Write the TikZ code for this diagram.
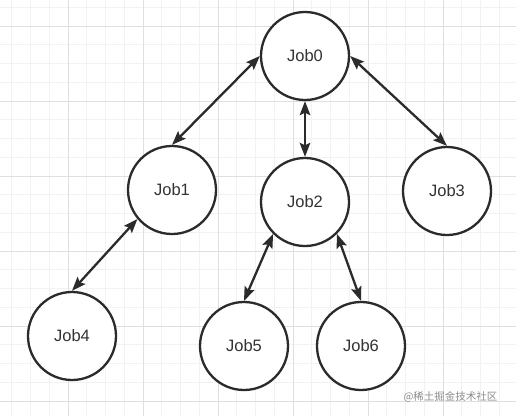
\documentclass[tikz,border=0pt]{standalone}
\usepackage{fontspec}
\setmainfont{Liberation Sans}
\newfontfamily\cjk{Noto Sans CJK SC}
\usepackage{tikz}
\usetikzlibrary{arrows.meta,positioning}
\definecolor{gridminor}{HTML}{F2F2F2}
\definecolor{gridmajor}{HTML}{DFDFDF}
\definecolor{jobink}{HTML}{2B2B2B}
\definecolor{jobtext}{HTML}{333333}

\begin{document}
\begin{tikzpicture}[
    x=1pt,y=-1pt,
    job/.style   = {circle,draw=jobink,line width=2.3pt,fill=white,
                    minimum size=88pt,inner sep=0pt,
                    font=\fontsize{16.5}{18}\selectfont,text=jobtext},
    link/.style  = {draw=jobink,line width=2.3pt,
                    {Stealth[length=14pt,width=10.5pt,inset=2.5pt]}-{Stealth[length=14pt,width=10.5pt,inset=2.5pt]}},
    minor/.style = {gridminor,line width=0.8pt},
    major/.style = {gridmajor,line width=0.8pt},
  ]
  \useasboundingbox (0,0) rectangle (516,416);
  \fill[white] (0,0) rectangle (516,416);

  % ── Grille de fond ────────────────────────────────────────────────────────
  \foreach \i in {0,...,26}
    \draw[minor] ({11.75+18.75*\i},0) -- ++(0,416);
  \foreach \i in {0,...,21}
    \draw[minor] (0,{7.25+18.75*\i}) -- ++(516,0);
  \foreach \i in {0,...,5}
    \draw[major] ({68+75*\i},0) -- ++(0,416);
  \foreach \i in {0,...,5}
    \draw[major] (0,{26+75*\i}) -- ++(516,0);

  % ── Jobs ──────────────────────────────────────────────────────────────────
  \node[job] (job0) at (305, 56)  {Job0};
  \node[job] (job1) at (172,190)  {Job1};
  \node[job] (job2) at (305,202)  {Job2};
  \node[job] (job3) at (447,191)  {Job3};
  \node[job] (job4) at ( 72,336)  {Job4};
  \node[job] (job5) at (244,346)  {Job5};
  \node[job] (job6) at (361,346)  {Job6};

  % ── Liens ─────────────────────────────────────────────────────────────────
  \draw[link] (job0.west)  -- (job1.north);
  \draw[link] (job0.south) -- (job2.north);
  \draw[link] (job0.east)  -- (job3.north);
  \draw[link] (job1.220)   -- (job4.north);
  \draw[link] (job2.225)   -- (job5.north);
  \draw[link] (job2.315)   -- (job6.north);

  \node[font=\cjk\fontsize{10.5}{12}\selectfont,text=black!45,anchor=east]
       (marque) at (501,397) {@稀土掘金技术社区};

\end{tikzpicture}
\end{document}
